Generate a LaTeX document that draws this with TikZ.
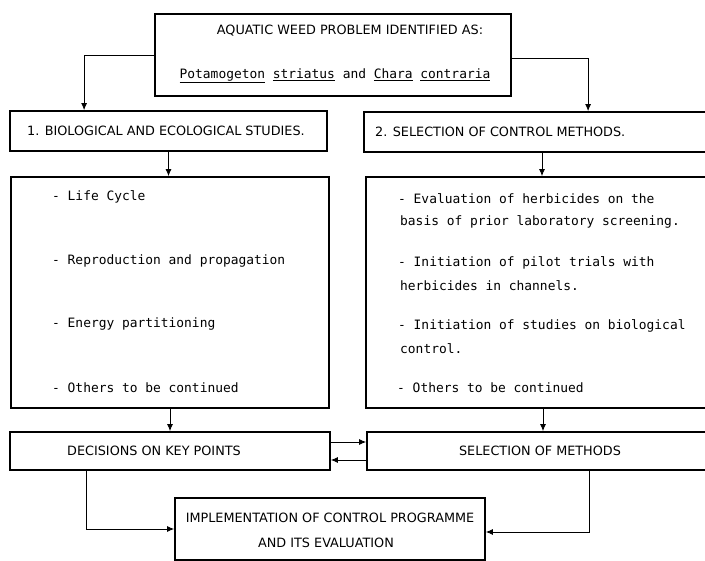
\documentclass[tikz,border=0pt]{standalone}
\usepackage{fontspec}
\setmainfont{DejaVu Sans}
\newfontfamily\typefont{DejaVu Sans Mono}
\usetikzlibrary{arrows.meta,positioning}
\tikzset{
  box/.style={draw, rectangle, line width=1.8pt, inner sep=0pt},
  caps/.style={inner sep=0pt, font=\fontsize{12.8}{14}\selectfont},
  item/.style={inner sep=0pt, anchor=west, font=\typefont\fontsize{12.9}{14}\selectfont},
  conn/.style={line width=0.8pt, -{Latex[length=7pt,width=6pt]}}
}

\begin{document}
\begin{tikzpicture}[x=1pt, y=-1pt]
    \useasboundingbox (0,0) rectangle (705,561);

    % boxes
    \node [box, minimum width=356pt, minimum height=82pt] (top) at (333,55) {};
    \node [box, minimum width=317pt, minimum height=40pt] (bio) at (168.5,131) {};
    \node [box, minimum width=356pt, minimum height=40pt] (sel) at (542,132) {};
    \node [box, minimum width=318pt, minimum height=231pt] (lbig) at (170,292.5) {};
    \node [box, minimum width=354pt, minimum height=231pt] (rbig) at (543,292.5) {};
    \node [box, minimum width=320pt, minimum height=38pt] (dec) at (170,451) {};
    \node [box, minimum width=353pt, minimum height=38pt] (meth) at (543.5,451) {};
    \node [box, minimum width=310pt, minimum height=62pt] (impl) at (330,529) {};

    % labels
    \node [caps] (t1) at (350,31) {AQUATIC WEED PROBLEM IDENTIFIED AS:};
    \node [item, anchor=center] (t2) at (335,76)
      {\underline{Potamogeton} \underline{striatus} and \underline{Chara} \underline{contraria}};
    \node [caps, anchor=west] (b1) at (27,131) {1. BIOLOGICAL AND ECOLOGICAL STUDIES.};
    \node [caps, anchor=west] (s1) at (375,132) {2. SELECTION OF CONTROL METHODS.};

    \node [item] (l1) at (52,197) {- Life Cycle};
    \node [item] (l2) at (52,261) {- Reproduction and propagation};
    \node [item] (l3) at (52,324) {- Energy partitioning};
    \node [item] (l4) at (52,388) {- Others to be continued};

    \node [item] (r1a) at (398,199) {- Evaluation of herbicides on the};
    \node [item] (r1b) at (400,222) {basis of prior laboratory screening.};
    \node [item] (r2a) at (398,263) {- Initiation of pilot trials with};
    \node [item] (r2b) at (400,286) {herbicides in channels.};
    \node [item] (r3a) at (398,326) {- Initiation of studies on biological};
    \node [item] (r3b) at (400,349) {control.};
    \node [item] (r4) at (397,388) {- Others to be continued};

    \node [caps] (d1) at (154,451) {DECISIONS ON KEY POINTS};
    \node [caps] (m1) at (540,451) {SELECTION OF METHODS};
    \node [caps] (i1) at (330,518) {IMPLEMENTATION OF CONTROL PROGRAMME};
    \node [caps] (i2) at (326,543) {AND ITS EVALUATION};

    % connectors
    \coordinate (bioin) at ([xshift=75pt]bio.north west);
    \coordinate (selin) at ([xshift=225pt]sel.north west);
    \coordinate (decout) at ([xshift=77pt]dec.south west);
    \coordinate (methout) at ([xshift=223pt]meth.south west);
    \draw [conn] (top.west) -| (bioin);
    \draw [conn] ([yshift=-3pt]top.east) -| (selin);
    \draw [conn] (bio.south) -- (bio.south |- lbig.north);
    \draw [conn] (sel.south) -- (sel.south |- rbig.north);
    \draw [conn] (lbig.south) -- (lbig.south |- dec.north);
    \draw [conn] (rbig.south) -- (rbig.south |- meth.north);
    \draw [conn] ([yshift=9pt]dec.east) -- ([yshift=9pt]meth.west);
    \draw [conn] ([yshift=-9pt]meth.west) -- ([yshift=-9pt]dec.east);
    \draw [conn] (decout) |- (impl.west);
    \draw [conn] (methout) |- ([yshift=-3pt]impl.east);
\end{tikzpicture}
\end{document}
